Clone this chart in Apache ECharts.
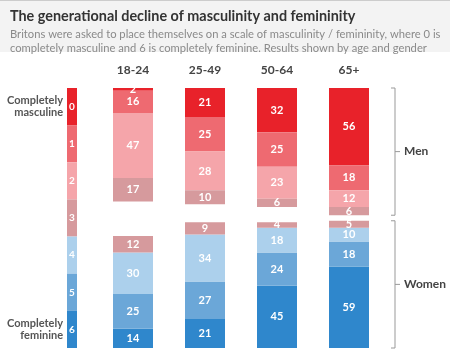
<!DOCTYPE html>
<html><head><meta charset="utf-8">
<script src="https://cdn.jsdelivr.net/npm/echarts@6/dist/echarts.min.js"></script>
<style>html,body{margin:0;padding:0;background:#fff}#c{width:450px;height:361px}</style>
</head><body><div id="c"></div>
<script>
const categories = ['18-24', '25-49', '50-64', '65+'];
// Men: scale points 0..3 (stacked from top)
const men0 = [2, 21, 32, 56];
const men1 = [16, 25, 25, 18];
const men2 = [47, 28, 23, 12];
const men3 = [17, 10, 6, 6];
// Women: scale points 6..3 (stacked from bottom)
const women6 = [14, 21, 45, 59];
const women5 = [25, 27, 24, 18];
const women4 = [30, 34, 18, 10];
const women3 = [12, 9, 4, 5];
const scaleLabels = ['0', '1', '2', '3', '4', '5', '6'];
const scaleValues = [1, 1, 1, 1, 1, 1, 1];
const axisMax = 188;

const colors = ['#e8222a', '#ee6a71', '#f5a5aa', '#d69a9d', '#acd0ec', '#6ba7d8', '#2f87cc'];
const FONT = 'Lato';

const lbl = {show: true, position: 'inside', color: '#fff', fontWeight: 'bold', fontSize: 11, fontFamily: FONT};
function mk(name, data, ci, stack, axisIdx) {
  return {name, type: 'bar', data, stack, xAxisIndex: axisIdx, yAxisIndex: axisIdx,
    barWidth: 40, itemStyle: {color: colors[ci]}, label: lbl, silent: true};
}

const chart = echarts.init(document.getElementById('c'), null, {renderer: 'canvas'});
const option = {
  animation: false,
  backgroundColor: '#fff',
  title: {
    text: 'The generational decline of masculinity and femininity',
    subtext: 'Britons were asked to place themselves on a scale of masculinity / femininity, where 0 is\ncompletely masculine and 6 is completely feminine. Results shown by age and gender',
    left: 5, top: 4, itemGap: 4,
    textStyle: {fontSize: 14.4, fontWeight: 'bold', color: '#333', fontFamily: FONT},
    subtextStyle: {fontSize: 11.2, color: '#8a8a8a', lineHeight: 14, fontFamily: FONT}
  },
  grid: [
    {left: 97, width: 288, top: 88, height: 260},
    {left: 67, width: 10, top: 88, height: 260}
  ],
  xAxis: [
    {type: 'category', gridIndex: 0, data: categories, position: 'top',
     axisLine: {show: false}, axisTick: {show: false},
     axisLabel: {margin: 12, fontSize: 12, fontWeight: 'bold', color: '#444', fontFamily: FONT}},
    {type: 'category', gridIndex: 0, data: categories, show: false},
    {type: 'value', gridIndex: 1, min: 0, max: 1, show: false}
  ],
  yAxis: [
    {type: 'value', gridIndex: 0, min: 0, max: axisMax, show: false},
    {type: 'value', gridIndex: 0, min: 0, max: axisMax, inverse: true, show: false},
    {type: 'category', gridIndex: 1, data: scaleLabels, inverse: true,
     axisLine: {show: false}, axisTick: {show: false},
     axisLabel: {margin: 4, fontSize: 11, fontWeight: 'bold', color: '#555', fontFamily: FONT, lineHeight: 12,
       formatter: v => v === '0' ? 'Completely\nmasculine' : (v === '6' ? 'Completely\nfeminine' : '')}}
  ],
  series: [
    mk('0', men0, 0, 'men', 1),
    mk('1', men1, 1, 'men', 1),
    mk('2', men2, 2, 'men', 1),
    mk('3m', men3, 3, 'men', 1),
    mk('6', women6, 6, 'women', 0),
    mk('5', women5, 5, 'women', 0),
    mk('4', women4, 4, 'women', 0),
    mk('3w', women3, 3, 'women', 0),
    {type: 'bar', xAxisIndex: 2, yAxisIndex: 2, barCategoryGap: 0, silent: true,
     data: scaleValues.map((v, i) => ({value: v, itemStyle: {color: colors[i]}})),
     label: {show: true, position: 'inside', color: '#fff', fontWeight: 'bold', fontSize: 10, fontFamily: FONT,
       formatter: p => scaleLabels[p.dataIndex]}}
  ]
};
chart.setOption(option);

// Brackets for Men / Women groups
const menTot = categories.map((_, i) => men0[i] + men1[i] + men2[i] + men3[i]);
const womenTot = categories.map((_, i) => women6[i] + women5[i] + women4[i] + women3[i]);
const lastCat = categories[categories.length - 1];
const menTop = chart.convertToPixel({xAxisIndex: 1, yAxisIndex: 1}, [lastCat, 0]);
const menBot = chart.convertToPixel({xAxisIndex: 1, yAxisIndex: 1}, [lastCat, Math.max(...menTot)]);
const wBot = chart.convertToPixel({xAxisIndex: 0, yAxisIndex: 0}, [lastCat, 0]);
const wTop = chart.convertToPixel({xAxisIndex: 0, yAxisIndex: 0}, [lastCat, Math.max(...womenTot)]);
const bx = menTop[0] + 46;
function bracket(y1, y2, text) {
  const mid = (y1 + y2) / 2;
  return [
    {type: 'polyline', shape: {points: [[bx - 4, y1], [bx, y1], [bx, y2], [bx - 4, y2]]},
     style: {stroke: '#999', lineWidth: 1, fill: null}, silent: true},
    {type: 'line', shape: {x1: bx, y1: mid, x2: bx + 5, y2: mid}, style: {stroke: '#999', lineWidth: 1}, silent: true},
    {type: 'text', x: bx + 9, y: mid, style: {text, fill: '#444', fontSize: 12, fontWeight: 'bold', fontFamily: FONT,
      textVerticalAlign: 'middle', verticalAlign: 'middle'}, silent: true}
  ];
}
chart.setOption({graphic: [
  {type: 'rect', z: -10, shape: {x: 0, y: 0, width: 450, height: 52}, style: {fill: '#f3f3f3'}, silent: true},
  {type: 'line', shape: {x1: 0, y1: 0.5, x2: 450, y2: 0.5}, style: {stroke: '#ccc', lineWidth: 1}, silent: true},
  ...bracket(menTop[1], menBot[1], 'Men'),
  ...bracket(wTop[1], wBot[1], 'Women')
]});
</script>
</body></html>
